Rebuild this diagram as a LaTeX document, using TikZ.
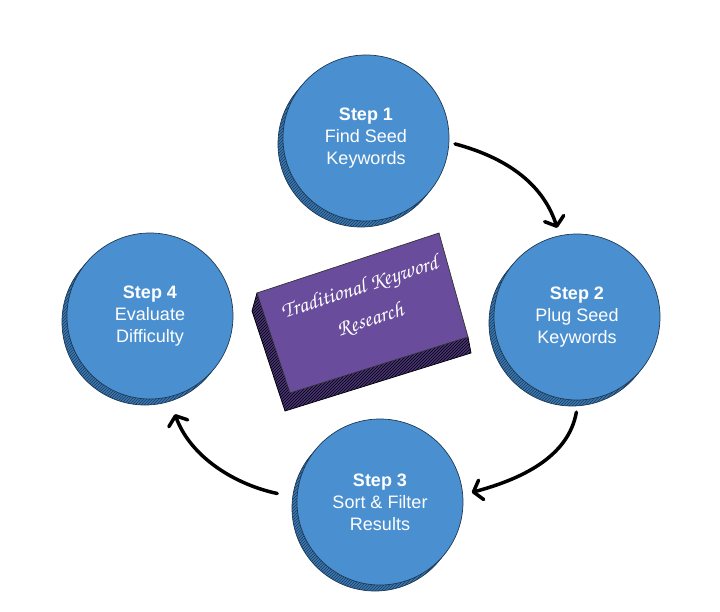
\documentclass[tikz,border=0pt]{standalone}
\usepackage[T1,TU]{fontenc}
\usepackage{fontspec}
\setmainfont{Liberation Sans}
\usetikzlibrary{arrows.meta,patterns,shadows}

\definecolor{coinblue}{HTML}{4A90D0}
\definecolor{rimblue}{HTML}{3A78B4}
\definecolor{coinline}{HTML}{1E3A56}
\definecolor{slabtop}{HTML}{6A4C9C}
\definecolor{slabside}{HTML}{4A3378}

\newcommand{\handfont}{\fontencoding{T1}\fontfamily{pzc}\fontseries{mb}\fontshape{it}\selectfont}

\tikzset{
  coin/.style={circle, minimum size=166pt, inner sep=0pt, fill=coinblue, draw=coinline, line width=0.7pt,
    text=white, align=center, font=\fontsize{18}{22}\selectfont,
    general shadow={shadow xshift=-5pt, shadow yshift=-6pt, fill=rimblue, draw=coinline, line width=0.7pt},
    general shadow={shadow xshift=-5pt, shadow yshift=-6pt, pattern=north east lines, pattern color=coinline}},
  flow/.style={line width=3.5pt, line cap=round, -{Straight Barb[length=8pt,width=20pt,round]}},
}

\begin{document}
\begin{tikzpicture}[x=1pt,y=1pt]
    \fill[white] (0,0) rectangle (720,-612);
    \useasboundingbox (0,0) rectangle (720,-612);

    \filldraw[fill=slabside, draw=black, line width=0.7pt, postaction={pattern=north east lines, pattern color=black}]
        (257,-293) -- (252,-311) -- (285,-411) -- (471,-353) -- (468,-337) -- cycle;
    \filldraw[fill=slabtop, draw=black!80, line width=0.7pt] (257,-293) -- (439,-233) -- (468,-337) -- (290,-393) -- cycle;
    \node[rotate=18, text=white, align=center, font={\fontsize{22}{34}\handfont}] (kw) at (365,-304) {Traditional Keyword\\Research};

    \node[coin] (s1) at (366,-138) {\textbf{Step 1}\\Find Seed\\Keywords};
    \node[coin] (s2) at (577,-317) {\textbf{Step 2}\\Plug Seed\\Keywords};
    \node[coin] (s3) at (380,-502) {\textbf{Step 3}\\Sort \& Filter\\Results};
    \node[coin] (s4) at (150,-316) {\textbf{Step 4}\\Evaluate\\Difficulty};

    \draw[flow, shorten <=6pt, shorten >=8pt] (s1.-3) to[out=-15, in=108] (s2.102);
    \draw[flow, shorten <=12pt, shorten >=9pt] (s2.-89) to[out=-100, in=15] (s3.5);
    \draw[flow, shorten <=20pt, shorten >=18pt] (s3.177) to[out=168, in=-70] (s4.-77);
\end{tikzpicture}
\end{document}
